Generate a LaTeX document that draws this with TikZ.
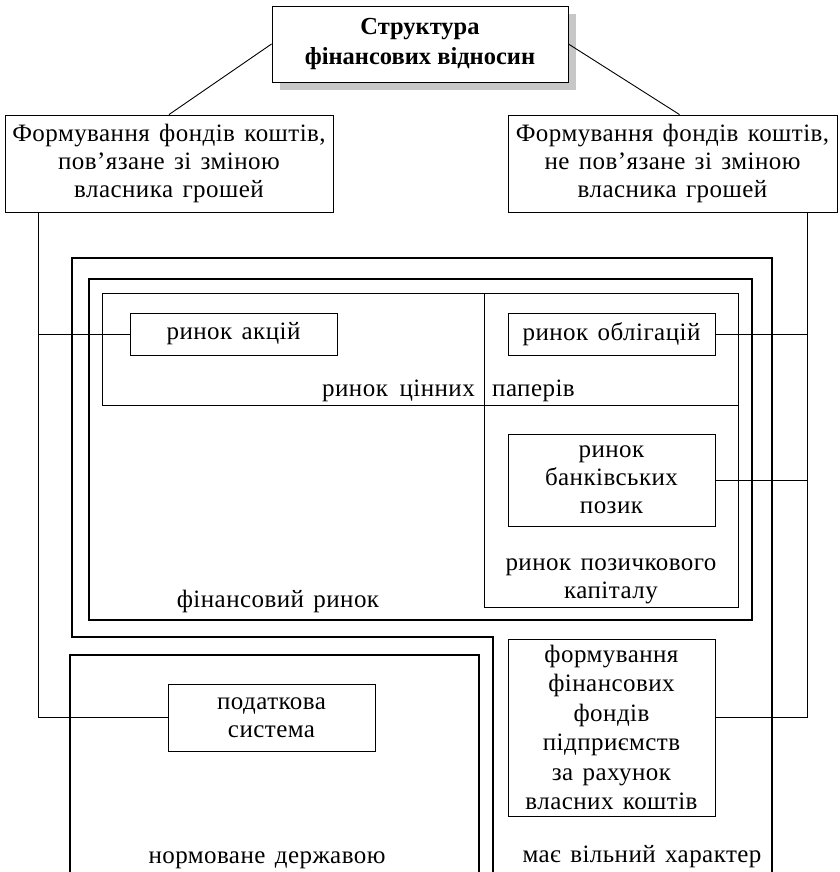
\documentclass[tikz,border=0pt]{standalone}
\usepackage{fontspec}
\setmainfont{Liberation Serif}
\newfontfamily\spaced{Liberation Serif}[LetterSpace=1.8,WordSpace=1.4]
\usetikzlibrary{shadows}
\begin{document}
\begin{tikzpicture}[x=1pt,y=-1pt,
  every node/.style={inner sep=0pt},
  txt/.style={font=\spaced\fontsize{25}{28}\selectfont, align=center},
  box/.style={txt, draw, line width=0.9pt, rectangle},
  thin/.style={line width=0.9pt},
  frame/.style={line width=2.2pt},
  heavy/.style={line width=2.8pt}]
\useasboundingbox (0,0) rectangle (839,872);
% title
\node[box, font=\bfseries\fontsize{24.5}{30}\selectfont, minimum width=296pt, minimum height=76pt,
  drop shadow={shadow xshift=8pt,shadow yshift=-8pt,fill=black!22,opacity=1}, fill=white]
  (title) at (420,44) {Структура\\фінансових відносин};
\node[box, minimum width=328pt, minimum height=97pt] (left) at (169,163.5)
  {Формування фондів коштів,\\пов’язане зі зміною\\власника грошей};
\node[box, minimum width=329pt, minimum height=97pt] (right) at (672.5,163.5)
  {Формування фондів коштів,\\не пов’язане зі зміною\\власника грошей};
\draw[thin] (title.west) -- (left.north);
\draw[thin] (title.east) -- ([xshift=7pt]right.north);
% frames
\draw[frame] (493,872) -- (493,637) -- (72,637) -- (72,258) -- (772,258) -- (772,872);
\draw[heavy] (89,279) rectangle (752,620);
\draw[thin] (102,293) rectangle (738,405);
\draw[thin] (484,293) rectangle (738,607);
\draw[heavy] (70,872) -- (70,655) -- (479,655) -- (479,872);
% inner boxes
\node[box, minimum width=207pt, minimum height=42pt] (akcii) at (233.5,334) {ринок акцій};
\node[box, minimum width=207pt, minimum height=42pt] (oblig) at (611.5,334) {ринок облігацій};
\node[box, minimum width=207pt, minimum height=92pt] (bank) at (611.5,480) {ринок\\банківських\\позик};
\node[box, minimum width=207pt, minimum height=67pt] (tax) at (271.5,717.5) {податкова\\система};
\node[box, minimum width=207pt, minimum height=177pt, font=\spaced\fontsize{25}{29.5}\selectfont] (form) at (611.5,727.5)
  {формування\\фінансових\\фондів\\підприємств\\за рахунок\\власних коштів};
% labels
\node[txt, anchor=base west] (l1) at (322,396) {ринок};
\node[txt, anchor=base east] (l2) at (475,396) {цінних};
\node[txt, anchor=base west] (l3) at (492,396) {паперів};
\node[txt, anchor=base] (fr) at (278,607) {фінансовий ринок};
\node[txt, anchor=base] (pk1) at (611,570) {ринок позичкового};
\node[txt, anchor=base] (pk2) at (611,598) {капіталу};
\node[txt, anchor=base] (nd) at (267,863) {нормоване державою};
\node[txt, anchor=base] (vh) at (642,862) {має вільний характер};
% connectors
\coordinate (lx) at (38,0);
\coordinate (rx) at (807,0);
\draw[thin] (left.south -| lx) |- (tax.west);
\draw[thin] (akcii.west) -- (akcii.west -| lx);
\draw[thin] (right.south -| rx) |- (form.east |- tax.west);
\draw[thin] (oblig.east) -- (oblig.east -| rx);
\draw[thin] (bank.east) -- (bank.east -| rx);
\end{tikzpicture}
\end{document}
